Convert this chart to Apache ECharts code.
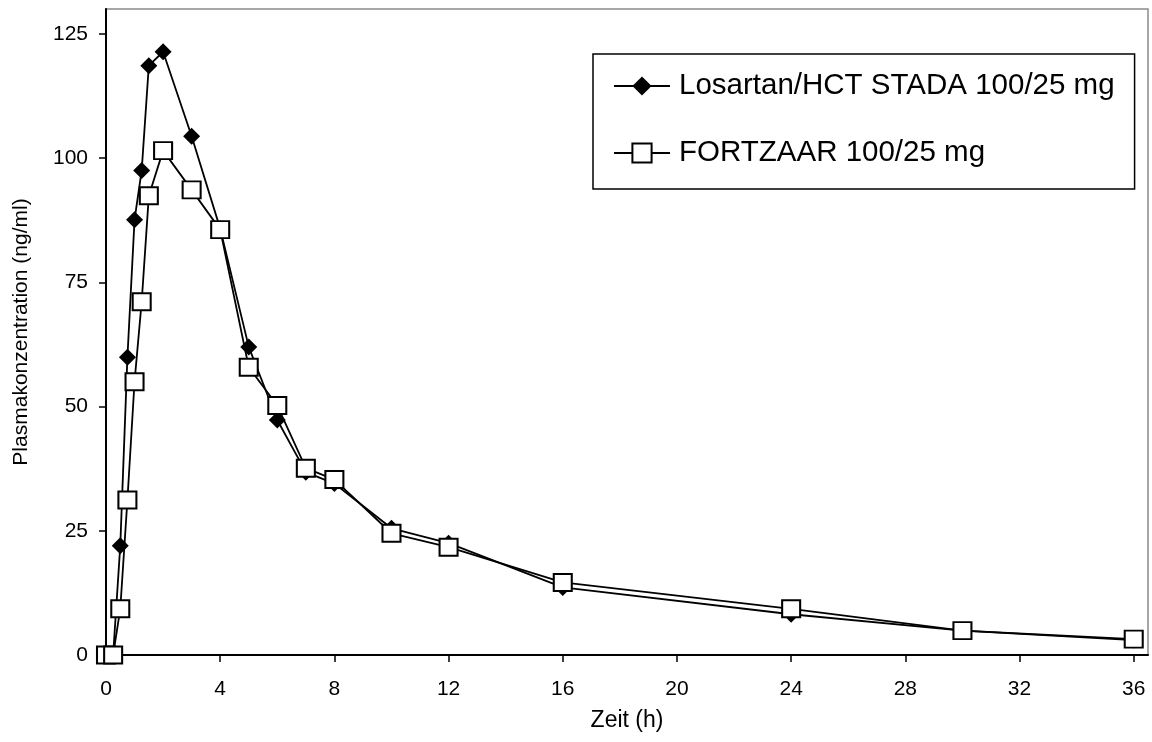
<!DOCTYPE html>
<html>
<head>
<meta charset="utf-8">
<script src="https://cdn.jsdelivr.net/npm/echarts@6/dist/echarts.min.js"></script>
<style>
html,body{margin:0;padding:0;background:#fff;}
#chart{width:1152px;height:742px;}
</style>
</head>
<body>
<div id="chart"></div>
<script>
// Time points (h)
const times = [0, 0.25, 0.5, 0.75, 1, 1.25, 1.5, 2, 3, 4, 5, 6, 7, 8, 10, 12, 16, 24, 30, 36];
// Plasma concentration (ng/ml)
const losartanStada = [0, 0, 22.0, 59.9, 87.6, 97.5, 118.6, 121.4, 104.4, 85.8, 62.0, 47.3, 36.8, 34.5, 25.5, 22.5, 13.6, 8.2, 4.9, 3.0];
const fortzaar = [0, 0, 9.3, 31.2, 55.0, 71.1, 92.4, 101.5, 93.6, 85.6, 57.9, 50.2, 37.6, 35.3, 24.5, 21.7, 14.6, 9.3, 4.9, 3.2];
// Tick labels
const xTicks = [0, 4, 8, 12, 16, 20, 24, 28, 32, 36];
const yTicks = [0, 25, 50, 75, 100, 125];
const seriesNames = ['Losartan/HCT STADA 100/25 mg', 'FORTZAAR 100/25 mg'];

const FONT = 'Liberation Sans, Arial, sans-serif';
const pairs = (xs, ys) => xs.map((x, i) => [x, ys[i]]);

const chart = echarts.init(document.getElementById('chart'), null, {renderer: 'canvas'});
chart.setOption({
  animation: false,
  backgroundColor: '#fff',
  grid: {
    left: 106, right: 4, top: 9, bottom: 87,
    show: true, borderColor: '#8a8a8a', borderWidth: 1.5, backgroundColor: 'transparent'
  },
  legend: {
    orient: 'vertical',
    left: 593, top: 54,
    padding: [17, 20, 21, 20],
    itemGap: 37,
    itemWidth: 56, itemHeight: 24,
    borderColor: '#000', borderWidth: 1.5,
    backgroundColor: '#fff',
    textStyle: {fontFamily: FONT, fontSize: 29.5, color: '#000', padding: [0, 0, 0, 4]},
    data: seriesNames
  },
  xAxis: {
    type: 'value', min: 0, max: 36.5,
    name: 'Zeit (h)', nameLocation: 'middle', nameGap: 54,
    nameTextStyle: {fontFamily: FONT, fontSize: 23, color: '#000'},
    axisLine: {show: true, onZero: false, lineStyle: {color: '#000', width: 2}},
    axisTick: {show: true, inside: false, length: 7, customValues: xTicks, lineStyle: {color: '#000', width: 1.5}},
    axisLabel: {customValues: xTicks, margin: 24, fontFamily: FONT, fontSize: 21, color: '#000'},
    splitLine: {show: false}
  },
  yAxis: {
    type: 'value', min: 0, max: 130,
    name: 'Plasmakonzentration (ng/ml)', nameLocation: 'middle', nameGap: 74,
    nameTextStyle: {fontFamily: FONT, fontSize: 21, color: '#000'},
    axisLine: {show: true, onZero: false, lineStyle: {color: '#000', width: 2}},
    axisTick: {show: true, inside: false, length: 7, customValues: yTicks, lineStyle: {color: '#000', width: 1.5}},
    axisLabel: {customValues: yTicks, margin: 18, fontFamily: FONT, fontSize: 21, color: '#000'},
    splitLine: {show: false}
  },
  series: [
    {
      name: seriesNames[0], type: 'line',
      data: pairs(times, losartanStada),
      symbol: 'diamond', symbolSize: 17,
      lineStyle: {color: '#000', width: 1.8},
      itemStyle: {color: '#000', borderColor: '#000', borderWidth: 0},
      z: 2
    },
    {
      name: seriesNames[1], type: 'line',
      data: pairs(times, fortzaar),
      symbol: 'rect', symbolSize: [18, 17],
      lineStyle: {color: '#000', width: 1.8},
      itemStyle: {color: '#fff', borderColor: '#000', borderWidth: 2},
      z: 3
    }
  ]
});
</script>
</body>
</html>
